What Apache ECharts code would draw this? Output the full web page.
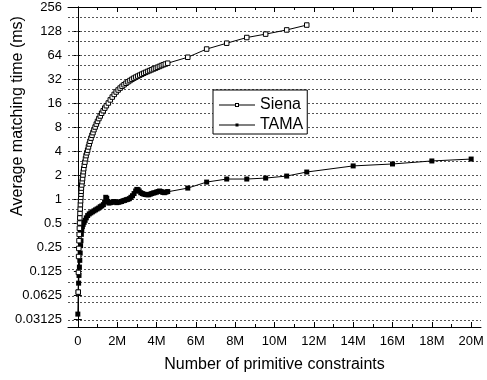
<!DOCTYPE html>
<html>
<head>
<meta charset="utf-8">
<script src="https://cdn.jsdelivr.net/npm/echarts@6/dist/echarts.min.js"></script>
<style>
html, body { margin: 0; padding: 0; background: #fff; }
#chart { width: 487px; height: 380px; }
</style>
</head>
<body>
<div id="chart"></div>
<script>
// x = number of primitive constraints (millions), y = average matching time (ms)
var sienaPoints = [
    [0.02, 0.068], [0.03, 0.12], [0.04, 0.19], [0.05, 0.24], [0.06, 0.3], [0.07, 0.36],
    [0.08, 0.43], [0.09, 0.5], [0.1, 0.58], [0.11, 0.66], [0.12, 0.75], [0.13, 0.85],
    [0.14, 0.95], [0.15, 1.05], [0.16, 1.15], [0.17, 1.25], [0.18, 1.37], [0.2, 1.5],
    [0.22, 1.65], [0.24, 1.8], [0.26, 2.0], [0.28, 2.2], [0.3, 2.4], [0.33, 2.65],
    [0.36, 2.9], [0.39, 3.2], [0.42, 3.5], [0.46, 3.8], [0.5, 4.1], [0.54, 4.5],
    [0.58, 4.9], [0.62, 5.3], [0.67, 5.8], [0.72, 6.3], [0.77, 6.8], [0.82, 7.4],
    [0.88, 8.0], [0.94, 8.7], [1.0, 9.4], [1.07, 10.2], [1.14, 11.0], [1.21, 11.9],
    [1.29, 12.8], [1.37, 13.8], [1.45, 14.8], [1.55, 16.0], [1.65, 17.5], [1.75, 19.0],
    [1.85, 20.5], [1.95, 22.0], [2.05, 23.3], [2.15, 24.6], [2.25, 25.9], [2.35, 27.1],
    [2.45, 28.3], [2.55, 29.5], [2.65, 30.6], [2.75, 31.7], [2.85, 32.8], [2.95, 33.8],
    [3.05, 34.8], [3.15, 35.8], [3.25, 36.8], [3.35, 37.8], [3.45, 38.8], [3.55, 39.8],
    [3.65, 40.8], [3.75, 41.8], [3.85, 42.8], [3.95, 43.8], [4.05, 44.9], [4.15, 46.0],
    [4.25, 47.2], [4.35, 48.3], [4.45, 49.3], [4.57, 50.5],
    [5.59, 60], [6.55, 76], [7.57, 90], [8.59, 106], [9.55, 117], [10.62, 132], [11.64, 152]
];
var tamaPoints = [
    [0.0, 0.036], [0.02, 0.068], [0.04, 0.088], [0.06, 0.11], [0.08, 0.14], [0.1, 0.17],
    [0.12, 0.21], [0.14, 0.26], [0.16, 0.3], [0.18, 0.36], [0.2, 0.41], [0.23, 0.45],
    [0.27, 0.48], [0.32, 0.51], [0.37, 0.54], [0.43, 0.58], [0.5, 0.62], [0.58, 0.65],
    [0.66, 0.67], [0.74, 0.69], [0.82, 0.71], [0.9, 0.73], [0.98, 0.75], [1.06, 0.77],
    [1.14, 0.8], [1.22, 0.82], [1.3, 0.85], [1.36, 0.92], [1.42, 1.05], [1.47, 1.02],
    [1.52, 0.93], [1.58, 0.89], [1.66, 0.9], [1.74, 0.91], [1.82, 0.93], [1.9, 0.92],
    [1.98, 0.9], [2.06, 0.91], [2.14, 0.92], [2.22, 0.93], [2.3, 0.95], [2.38, 0.96],
    [2.46, 0.98], [2.54, 0.99], [2.62, 1.01], [2.7, 1.05], [2.78, 1.1], [2.86, 1.17],
    [2.94, 1.26], [3.0, 1.32], [3.06, 1.31], [3.12, 1.26], [3.2, 1.2], [3.28, 1.17],
    [3.36, 1.15], [3.44, 1.14], [3.52, 1.13], [3.6, 1.13], [3.68, 1.15], [3.76, 1.17],
    [3.84, 1.19], [3.92, 1.2], [4.0, 1.22], [4.08, 1.24], [4.16, 1.26], [4.24, 1.24],
    [4.32, 1.21], [4.4, 1.2], [4.48, 1.22], [4.57, 1.24],
    [5.59, 1.37], [6.55, 1.63], [7.57, 1.78], [8.59, 1.78], [9.55, 1.83], [10.62, 1.94],
    [11.64, 2.18], [14, 2.6], [16, 2.75], [18, 3.0], [20, 3.17]
];
var xLabelTicks = [0, 2, 4, 6, 8, 10, 12, 14, 16, 18, 20];
var xMinorTicks = [1, 3, 5, 7, 9, 11, 13, 15, 17, 19];
var yLabelTicks = [0.03125, 0.0625, 0.125, 0.25, 0.5, 1, 2, 4, 8, 16, 32, 64, 128, 256];
var yMinorLines = [0.046875, 0.09375, 0.1875, 0.375, 0.75, 1.5, 3, 6, 12, 24, 48, 96, 192];

var font = 'Liberation Sans, Arial, sans-serif';
var xMin = -0.5, xMax = 20.5;
var yMin = Math.pow(2, -5.3333), yMax = 256;

var gridValues = yLabelTicks.filter(function(v) { return v < yMax; }).concat(yMinorLines);

// legend icons: line with open / filled square
var sienaIcon = 'path://M0 2H16V3H0Z M20 2H36V3H20Z M16 0.5H20V4.5H16Z M17 1.5V3.5H19V1.5Z';
var tamaIcon = 'path://M0 2H36V3H0Z M16.5 1H19.5V4H16.5Z';

function xTickAxis(position, ticks, len, withLabels) {
    var axis = {
        type: 'value', min: xMin, max: xMax, position: position,
        axisLine: { show: withLabels, lineStyle: { color: '#000', width: 1 } },
        axisTick: { inside: true, length: len, customValues: ticks, lineStyle: { color: '#000', width: 1 } },
        axisLabel: { show: false },
        splitLine: { show: false }
    };
    if (withLabels && position == 'bottom') {
        axis.axisLabel = {
            show: true, customValues: ticks, color: '#000', fontSize: 13, fontFamily: font, margin: 8,
            formatter: function(v) { return v === 0 ? '0' : v + 'M'; }
        };
        axis.name = 'Number of primitive constraints';
        axis.nameLocation = 'middle';
        axis.nameGap = 30;
        axis.nameMoveOverlap = false;
        axis.nameTextStyle = { fontSize: 16, color: '#000', fontFamily: font };
    }
    return axis;
}

var chart = echarts.init(document.getElementById('chart'));
chart.setOption({
    animation: false,
    backgroundColor: '#fff',
    grid: { left: 68, right: 6, top: 7, bottom: 53, outerBoundsMode: 'none' },
    legend: {
        data: [
            { name: 'Siena', icon: sienaIcon, itemStyle: { color: '#000', borderWidth: 0 } },
            { name: 'TAMA', icon: tamaIcon, itemStyle: { color: '#000', borderWidth: 0 } }
        ],
        orient: 'vertical',
        left: 213, top: 90, z: 10,
        backgroundColor: '#fff',
        borderColor: '#000', borderWidth: 1,
        padding: [7, 4, 1, 6],
        itemGap: 4, itemWidth: 36, itemHeight: 5,
        textStyle: { fontSize: 16, lineHeight: 16, color: '#000', fontFamily: font }
    },
    xAxis: [
        xTickAxis('bottom', xLabelTicks, 5, true),
        xTickAxis('bottom', xMinorTicks, 3, false),
        xTickAxis('top', xLabelTicks, 5, true),
        xTickAxis('top', xMinorTicks, 3, false)
    ],
    yAxis: [{
        type: 'log', logBase: 2, min: yMin, max: yMax, position: 'left',
        axisLine: { show: true, lineStyle: { color: '#000', width: 1 } },
        axisTick: { inside: true, length: 4, customValues: yLabelTicks, lineStyle: { color: '#000' } },
        axisLabel: {
            customValues: yLabelTicks, color: '#000', fontSize: 13, fontFamily: font, margin: 6,
            formatter: function(v) { return String(parseFloat(Number(v).toPrecision(6))); }
        },
        splitLine: { show: false },
        name: 'Average matching time (ms)',
        nameLocation: 'middle',
        nameGap: 42,
        nameMoveOverlap: false,
        nameTextStyle: { fontSize: 16, color: '#000', fontFamily: font, padding: [0, 0, 0, 102] }
    }, {
        type: 'log', logBase: 2, min: yMin, max: yMax, position: 'right',
        axisLine: { show: true, lineStyle: { color: '#000', width: 1 } },
        axisTick: { inside: true, length: 4, customValues: yLabelTicks, lineStyle: { color: '#000' } },
        axisLabel: { show: false },
        splitLine: { show: false }
    }],
    series: [{
        // dashed grid lines, kept under the curves and the legend
        type: 'line', data: [], z: 1, silent: true,
        markLine: {
            z: 1, silent: true, symbol: ['none', 'none'], label: { show: false },
            lineStyle: { color: '#555', width: 1, type: [2, 2] },
            data: gridValues.map(function(v) { return { yAxis: v }; })
        }
    }, {
        name: 'TAMA', type: 'line', data: tamaPoints, z: 2,
        symbol: 'rect', symbolSize: 5, showSymbol: true,
        itemStyle: { color: '#000' },
        lineStyle: { color: '#000', width: 1 },
        emphasis: { disabled: true }
    }, {
        name: 'Siena', type: 'line', data: sienaPoints, z: 3,
        symbol: 'rect', symbolSize: 4.5, showSymbol: true,
        itemStyle: { color: '#fff', borderColor: '#000', borderWidth: 1 },
        lineStyle: { color: '#000', width: 1 },
        emphasis: { disabled: true }
    }]
});
</script>
</body>
</html>
